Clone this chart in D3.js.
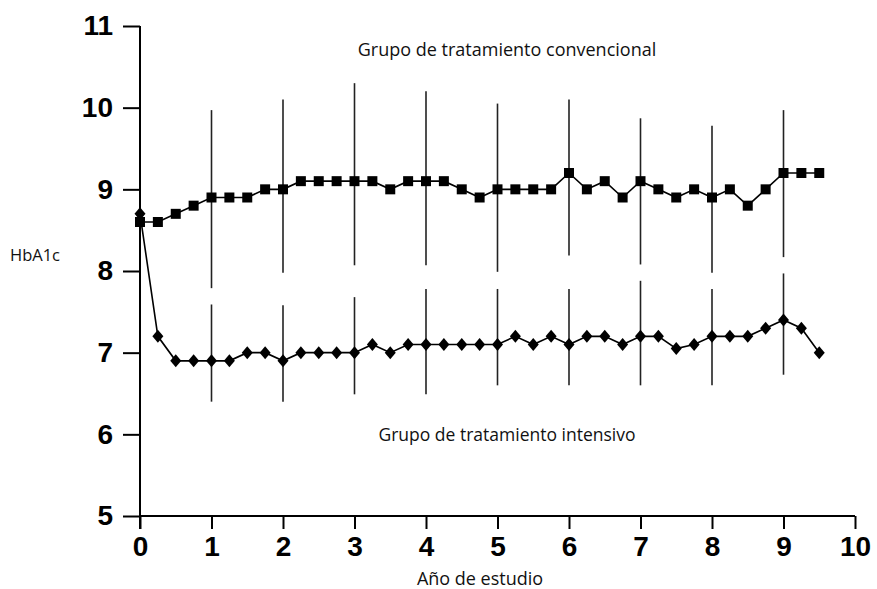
<!DOCTYPE html>
<html>
<head>
<meta charset="utf-8">
<script src="https://cdn.jsdelivr.net/npm/d3@7"></script>
<style>
html,body{margin:0;padding:0;background:#fff;}
svg{display:block;}
</style>
</head>
<body>
<svg id="chart" width="877" height="589"></svg>
<script>
const years = [0,0.25,0.5,0.75,1,1.25,1.5,1.75,2,2.25,2.5,2.75,3,3.25,3.5,3.75,4,4.25,4.5,4.75,5,5.25,5.5,5.75,6,6.25,6.5,6.75,7,7.25,7.5,7.75,8,8.25,8.5,8.75,9,9.25,9.5];
const convencional = [8.6,8.6,8.7,8.8,8.9,8.9,8.9,9.0,9.0,9.1,9.1,9.1,9.1,9.1,9.0,9.1,9.1,9.1,9.0,8.9,9.0,9.0,9.0,9.0,9.2,9.0,9.1,8.9,9.1,9.0,8.9,9.0,8.9,9.0,8.8,9.0,9.2,9.2,9.2];
const intensivo = [8.7,7.2,6.9,6.9,6.9,6.9,7.0,7.0,6.9,7.0,7.0,7.0,7.0,7.1,7.0,7.1,7.1,7.1,7.1,7.1,7.1,7.2,7.1,7.2,7.1,7.2,7.2,7.1,7.2,7.2,7.05,7.1,7.2,7.2,7.2,7.3,7.4,7.3,7.0];
const errYears = [1,2,3,4,5,6,7,8,9];
const convHigh = [9.97,10.1,10.3,10.2,10.05,10.1,9.87,9.78,9.97];
const convLow  = [7.79,7.98,8.07,8.07,7.99,8.19,8.08,7.98,8.17];
const intHigh  = [7.59,7.58,7.68,7.78,7.78,7.78,7.88,7.78,7.97];
const intLow   = [6.40,6.40,6.49,6.49,6.60,6.60,6.60,6.60,6.73];
const xTicks = [0,1,2,3,4,5,6,7,8,9,10];
const yTicks = [5,6,7,8,9,10,11];
const labelConv = "Grupo de tratamiento convencional";
const labelInt = "Grupo de tratamiento intensivo";
const xTitle = "Año de estudio";
const yTitle = "HbA1c";

const svg = d3.select("#chart");
const x = d3.scaleLinear().domain([0,10]).range([140,855]);
const y = d3.scaleLinear().domain([5,11]).range([516,26]);

// axes
const xAxis = d3.axisBottom(x).tickValues(xTicks).tickSize(13).tickPadding(5).tickFormat(d3.format("d"));
const yAxis = d3.axisLeft(y).tickValues(yTicks).tickSize(17).tickPadding(10).tickFormat(d3.format("d"));

const gx = svg.append("g").attr("transform","translate(0,516)").call(xAxis);
const gy = svg.append("g").attr("transform","translate(140,0)").call(yAxis);
[gx,gy].forEach(g=>{
  g.select(".domain").attr("stroke","#000").attr("stroke-width",2);
  g.selectAll(".tick line").attr("stroke","#000").attr("stroke-width",2);
  g.selectAll(".tick text").attr("fill","#000")
    .style("font-family","'Liberation Sans Narrow', 'Arial Narrow', 'Liberation Sans', Arial, sans-serif")
    .style("font-size","28px").style("font-weight","bold");
});
gx.selectAll(".tick text").attr("dy","0.78em");
gx.select(".domain").attr("d", `M${x(0)},0H${x(10)}`);
gy.select(".domain").attr("d", `M0,${y(11)}V${y(5)+13}`);

// error bars
const eb = svg.append("g").attr("stroke","#222").attr("stroke-width",1.6);
eb.selectAll("line.c").data(errYears).enter().append("line").attr("class","c")
  .attr("x1",d=>x(d)).attr("x2",d=>x(d))
  .attr("y1",(d,i)=>y(convHigh[i])).attr("y2",(d,i)=>y(convLow[i]));
eb.selectAll("line.i").data(errYears).enter().append("line").attr("class","i")
  .attr("x1",d=>x(d)).attr("x2",d=>x(d))
  .attr("y1",(d,i)=>y(intHigh[i])).attr("y2",(d,i)=>y(intLow[i]));

// lines
const line = d3.line().x(d=>x(d[0])).y(d=>y(d[1]));
const convData = years.map((t,i)=>[t,convencional[i]]);
const intData = years.map((t,i)=>[t,intensivo[i]]);
svg.append("path").datum(convData).attr("d",line).attr("fill","none").attr("stroke","#000").attr("stroke-width",1.6);
svg.append("path").datum(intData).attr("d",line).attr("fill","none").attr("stroke","#000").attr("stroke-width",1.6);

// markers
const sq = 10;
svg.append("g").selectAll("rect").data(convData).enter().append("rect")
  .attr("x",d=>x(d[0])-sq/2).attr("y",d=>y(d[1])-sq/2)
  .attr("width",sq).attr("height",sq).attr("fill","#000");
const diamond = "M0,-6.5L5.5,0L0,6.5L-5.5,0Z";
svg.append("g").selectAll("path").data(intData).enter().append("path")
  .attr("d",diamond).attr("transform",d=>`translate(${x(d[0])},${y(d[1])})`).attr("fill","#000");

// labels
const lf = "'Open Sans', 'Noto Sans', sans-serif";
svg.append("text").attr("x",507).attr("y",56).attr("text-anchor","middle")
  .style("font-family",lf).style("font-size","18px").attr("fill","#111").text(labelConv);
svg.append("text").attr("x",507).attr("y",441).attr("text-anchor","middle")
  .style("font-family",lf).style("font-size","17.5px").attr("fill","#111").text(labelInt);
svg.append("text").attr("x",480).attr("y",585).attr("text-anchor","middle")
  .style("font-family",lf).style("font-size","18px").attr("fill","#111").text(xTitle);
svg.append("text").attr("x",35).attr("y",261).attr("text-anchor","middle")
  .style("font-family",lf).style("font-size","16.5px").attr("fill","#111").text(yTitle);
</script>
</body>
</html>
